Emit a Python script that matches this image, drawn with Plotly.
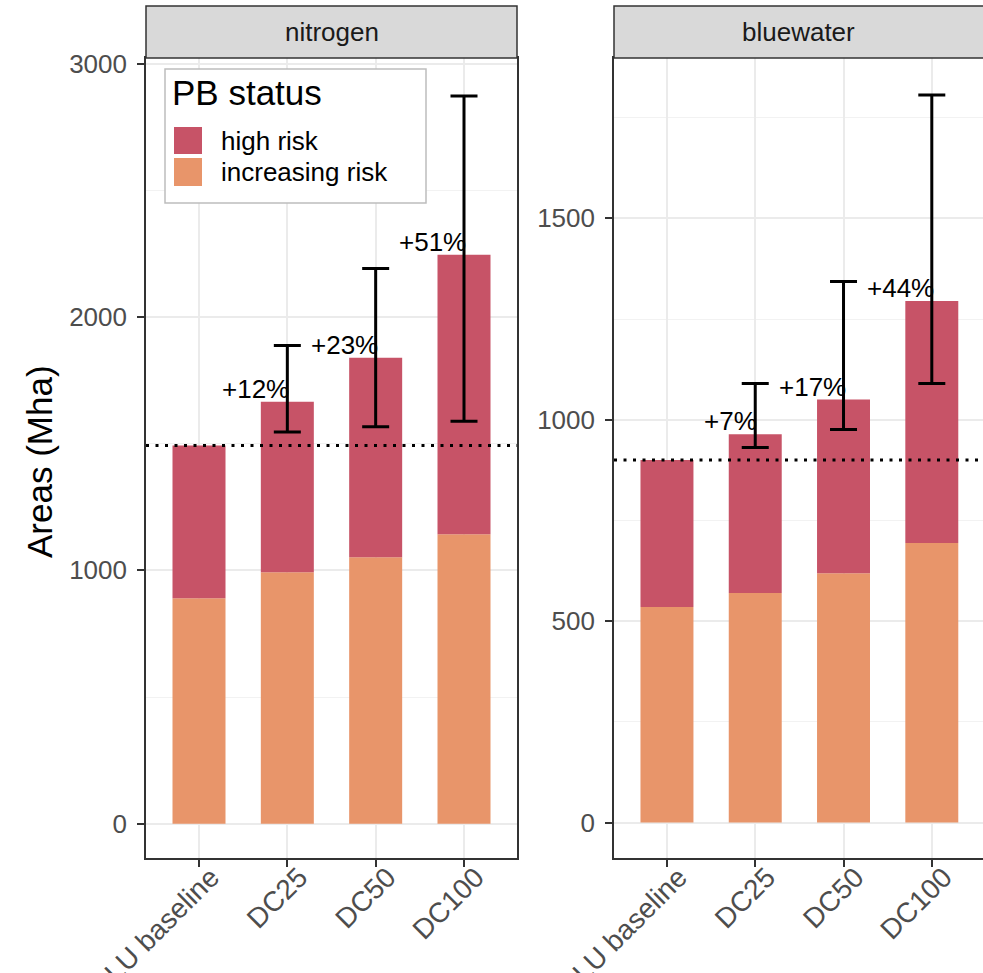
import plotly.graph_objects as go

# ---- data -------------------------------------------------------------
categories = ["LU baseline", "DC25", "DC50", "DC100"]

nitrogen_increasing = [890, 993, 1052, 1143]
nitrogen_high = [603, 672, 787, 1103]
nitrogen_err_low = [None, 1546, 1567, 1589]
nitrogen_err_high = [None, 1887, 2191, 2872]
nitrogen_labels = ["", "+12%", "+23%", "+51%"]

bluewater_increasing = [535, 570, 619, 694]
bluewater_high = [365, 394, 431, 601]
bluewater_err_low = [None, 931, 976, 1090]
bluewater_err_high = [None, 1090, 1343, 1806]
bluewater_labels = ["", "+7%", "+17%", "+44%"]

status_names = ["high risk", "increasing risk"]
status_colors = ["#C75367", "#E8956A"]

# ---- figure geometry (pixels) ----------------------------------------
W, H = 983, 973
FONT = "Liberation Sans, Arial, sans-serif"
SMALL = 26
XTICK = 28
LARGE = 35


def px(x):
    return x / W


def py(y):
    return 1 - y / H


panel_top, panel_bottom = 58, 858
strip_top = 6
panel_h = panel_bottom - panel_top
strip_frac = 1 + (panel_top - strip_top) / panel_h

fig = go.Figure()

panels = [
    dict(name="nitrogen", inc=nitrogen_increasing, high=nitrogen_high,
         lo=nitrogen_err_low, hi=nitrogen_err_high, labels=nitrogen_labels,
         xa="x", ya="y"),
    dict(name="bluewater", inc=bluewater_increasing, high=bluewater_high,
         lo=bluewater_err_low, hi=bluewater_err_high, labels=bluewater_labels,
         xa="x2", ya="y2"),
]

for p in panels:
    totals = [a + b for a, b in zip(p["inc"], p["high"])]
    fig.add_trace(go.Bar(x=categories, y=p["inc"], marker_color=status_colors[1],
                         marker_line_width=0, width=0.6, name=status_names[1],
                         showlegend=False, xaxis=p["xa"], yaxis=p["ya"]))
    fig.add_trace(go.Bar(x=categories, y=p["high"], base=p["inc"],
                         marker_color=status_colors[0], marker_line_width=0,
                         width=0.6, name=status_names[0], showlegend=False,
                         xaxis=p["xa"], yaxis=p["ya"]))
    # uncertainty ranges
    ex, ey, eplus = [], [], []
    for c, lo, hi in zip(categories, p["lo"], p["hi"]):
        if lo is None:
            continue
        ex.append(c)
        ey.append(lo)
        eplus.append(hi - lo)
    fig.add_trace(go.Scatter(
        x=ex, y=ey, mode="markers",
        marker=dict(size=1, color="rgba(0,0,0,0)"),
        error_y=dict(type="data", symmetric=False, array=eplus,
                     arrayminus=[0] * len(eplus), color="black",
                     thickness=3, width=13.5),
        showlegend=False, hoverinfo="skip", xaxis=p["xa"], yaxis=p["ya"]))
    # percentage change labels
    for c, t, lab in zip(categories, totals, p["labels"]):
        if not lab:
            continue
        fig.add_annotation(x=c, y=t, text=lab, xref=p["xa"], yref=p["ya"],
                           xanchor="right", yanchor="bottom", showarrow=False,
                           font=dict(family=FONT, size=SMALL, color="black"),
                           xshift=4, yshift=-4)
    # baseline reference line
    fig.add_shape(type="line", xref=p["xa"] + " domain", yref=p["ya"],
                  x0=0, x1=1, y0=totals[0], y1=totals[0],
                  line=dict(color="black", width=3, dash="3px,6.5px"))
    # facet strip
    fig.add_shape(type="rect", xref=p["xa"] + " domain", yref=p["ya"] + " domain",
                  x0=0, x1=1 if p["name"] == "nitrogen" else 1.05,
                  y0=1, y1=strip_frac, fillcolor="#D9D9D9",
                  line=dict(color="#333333", width=1.5), layer="above")
    fig.add_annotation(x=0.5, y=(1 + strip_frac) / 2, xref=p["xa"] + " domain",
                       yref=p["ya"] + " domain", text=p["name"], showarrow=False,
                       xanchor="center", yanchor="middle",
                       font=dict(family=FONT, size=SMALL, color="#1A1A1A"))

axis_common = dict(
    showgrid=True, gridcolor="#EBEBEB", gridwidth=1.6, automargin=False,
    ticks="outside", ticklen=7, tickwidth=1.6, tickcolor="#333333",
    tickfont=dict(family=FONT, size=SMALL, color="#4D4D4D"),
    showline=True, linecolor="#333333", linewidth=1.6, zeroline=False,
)
xtick_extra = dict(tickangle=-45, ticklabelstandoff=-17, ticklabelshift=12)
ydom = [py(panel_bottom), py(panel_top)]

fig.update_layout(
    width=W, height=H, margin=dict(l=0, r=0, t=0, b=0, autoexpand=False),
    paper_bgcolor="white", plot_bgcolor="white",
    barmode="overlay", bargap=0.4,
    xaxis=dict(domain=[px(146), px(517)], range=[-0.6, 3.6],
               mirror=True, anchor="y", **xtick_extra, **axis_common),
    yaxis=dict(domain=ydom, range=[-135, 3022], tickvals=[0, 1000, 2000, 3000],
               minor=dict(dtick=500, tick0=0, showgrid=True, gridcolor="#F2F2F2",
                          gridwidth=1, ticks=""),
               ticklabelstandoff=5, mirror=True, anchor="x", **axis_common),
    xaxis2=dict(domain=[px(614), 1], range=[-0.6, 3.58],
                mirror=True, anchor="y2", **xtick_extra, **axis_common),
    yaxis2=dict(domain=ydom, range=[-88, 1898], tickvals=[0, 500, 1000, 1500],
                minor=dict(dtick=250, tick0=0, showgrid=True, gridcolor="#F2F2F2",
                           gridwidth=1, ticks=""),
                ticklabelstandoff=5, mirror=False, anchor="x2", **axis_common),
    showlegend=False,
)
fig.update_xaxes(tickfont=dict(family=FONT, size=XTICK, color="#4D4D4D"))

# y-axis title
fig.add_annotation(x=px(40), y=py(462), xref="paper", yref="paper",
                   text="Areas (Mha)", textangle=-90, showarrow=False,
                   xanchor="center", yanchor="middle",
                   font=dict(family=FONT, size=LARGE, color="black"))

# legend box
fig.add_shape(type="rect", xref="paper", yref="paper",
              x0=px(165), x1=px(426), y0=py(203), y1=py(69),
              fillcolor="white", line=dict(color="#BDBDBD", width=1.5),
              layer="above")
fig.add_annotation(x=px(170), y=py(93), xref="paper", yref="paper",
                   text="PB status", showarrow=False, xanchor="left",
                   yanchor="middle",
                   font=dict(family=FONT, size=LARGE, color="black"))
key_rows = [(127, 154), (158, 186)]
for (y0, y1), name, col in zip(key_rows, status_names, status_colors):
    fig.add_shape(type="rect", xref="paper", yref="paper",
                  x0=px(174), x1=px(202), y0=py(y1), y1=py(y0),
                  fillcolor=col, line=dict(width=0), layer="above")
    fig.add_annotation(x=px(219), y=py((y0 + y1) / 2), xref="paper", yref="paper",
                       text=name, showarrow=False, xanchor="left",
                       yanchor="middle",
                       font=dict(family=FONT, size=SMALL, color="black"))

fig.write_html("out.html")
